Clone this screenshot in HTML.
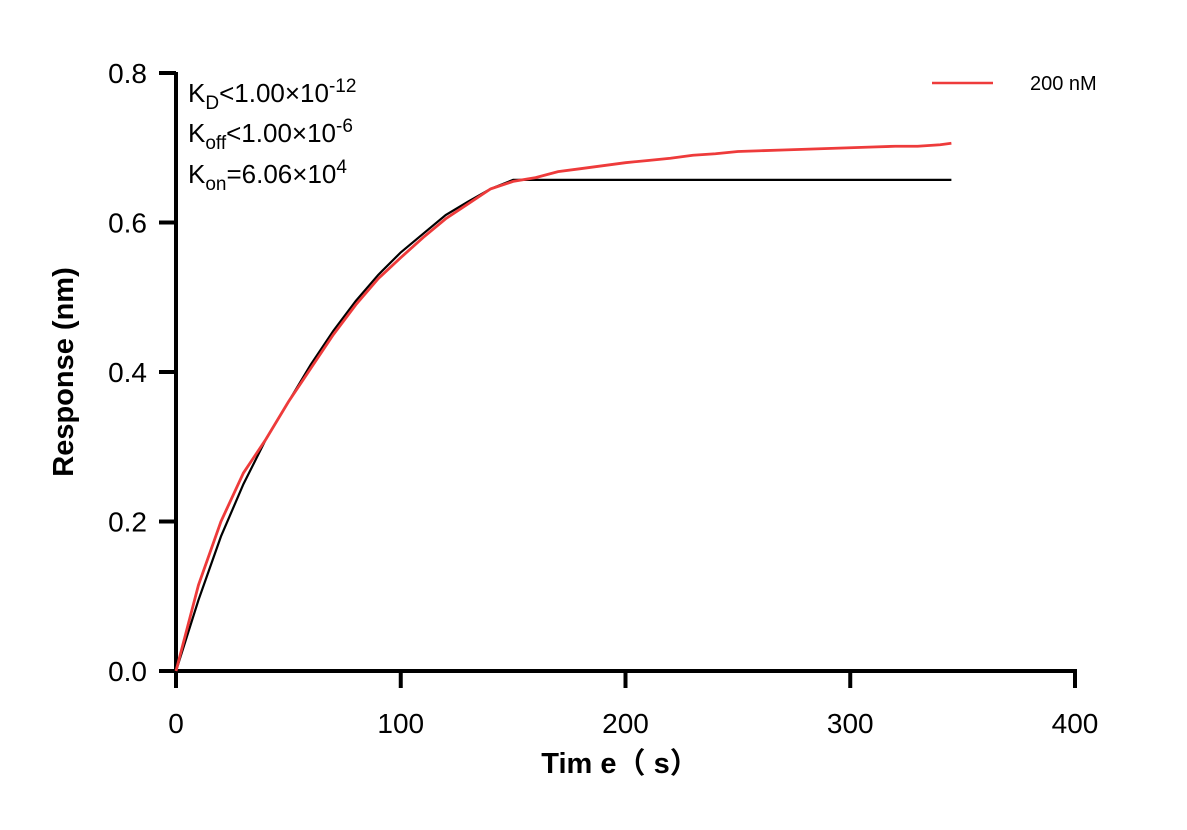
<!DOCTYPE html>
<html><head><meta charset="utf-8"><style>
body{margin:0;background:#fff;}
svg text{font-family:"Liberation Sans","Noto Sans CJK SC",sans-serif;}
</style></head><body>
<svg width="1187" height="825" xmlns="http://www.w3.org/2000/svg">
<g id="axes"></g>
<g id="marks"></g>
<text x="188" y="102" font-size="26">K<tspan font-size="19" dy="7">D</tspan><tspan dy="-7">&lt;1.00×10</tspan><tspan font-size="19" dy="-10">-12</tspan></text>
<text x="188" y="142" font-size="26">K<tspan font-size="19" dy="7">off</tspan><tspan dy="-7">&lt;1.00×10</tspan><tspan font-size="19" dy="-10">-6</tspan></text>
<text x="188" y="183" font-size="26">K<tspan font-size="19" dy="7">on</tspan><tspan dy="-7">=6.06×10</tspan><tspan font-size="19" dy="-10">4</tspan></text>
<line x1="932" y1="83" x2="993" y2="83" stroke="#ee3b3b" stroke-width="2.5"/>
<text x="1030" y="90" font-size="20">200 nM</text>
<text x="620" y="773" font-size="29" font-weight="bold" text-anchor="middle">Tim e（ s）</text>
<text transform="translate(73,372) rotate(-90)" font-size="29" font-weight="bold" text-anchor="middle">Response (nm)</text>
</svg>
<script>
const xTicks=[0,100,200,300,400];
const yTicks=[0.0,0.2,0.4,0.6,0.8];
const yTickLabels=["0.0","0.2","0.4","0.6","0.8"];
const times=[0,10,20,30,40,50,60,70,80,90,100,110,120,130,140,150,160,170,180,190,200,210,220,230,240,250,260,270,280,290,300,310,320,330,340,345];
const measured=[0,0.115,0.2,0.265,0.31,0.36,0.405,0.45,0.49,0.525,0.553,0.58,0.605,0.625,0.645,0.655,0.66,0.668,0.672,0.676,0.68,0.683,0.686,0.69,0.692,0.695,0.696,0.697,0.698,0.699,0.7,0.701,0.702,0.702,0.704,0.706];
const fitTimes=[0,10,20,30,40,50,60,70,80,90,100,110,120,130,140,150,345];
const fitValues=[0,0.095,0.18,0.25,0.31,0.36,0.41,0.455,0.495,0.53,0.56,0.585,0.61,0.628,0.645,0.657,0.657];
const NS="http://www.w3.org/2000/svg";
const X=t=>176+t*(1075-176)/400;
const Y=v=>671-v*(671-73)/0.8;
const axes=document.getElementById('axes'),marks=document.getElementById('marks');
function mk(tag,attrs,parent){const e=document.createElementNS(NS,tag);for(const k in attrs)e.setAttribute(k,attrs[k]);parent.appendChild(e);return e;}
let e=mk('line',{x1:176,y1:Y(0.8)-1,x2:176,y2:673,stroke:'#000','stroke-width':4},axes);


e=mk('line',{x1:174,y1:671,x2:X(400)+2,y2:671,stroke:'#000','stroke-width':4},axes);


xTicks.forEach(t=>{
 let l=mk('line',{x1:X(t),y1:671,x2:X(t),y2:688,stroke:'#000','stroke-width':4},axes);
 
 
 let s=mk('text',{x:X(t),y:733,'font-size':28,'text-anchor':'middle'},axes);s.textContent=t;
 
 
});
yTicks.forEach((v,i)=>{
 let l=mk('line',{x1:159,y1:Y(v),x2:176,y2:Y(v),stroke:'#000','stroke-width':4},axes);
 
 
 let s=mk('text',{x:147,y:Y(v)+10,'font-size':28,'text-anchor':'end'},axes);s.textContent=yTickLabels[i];
 
 
});
let fp=mk('polyline',{points:fitTimes.map((t,i)=>X(t)+','+Y(fitValues[i])).join(' '),fill:'none',stroke:'#000','stroke-width':2.2},marks);


let mp=mk('polyline',{points:times.map((t,i)=>X(t)+','+Y(measured[i])).join(' '),fill:'none',stroke:'#ee3b3b','stroke-width':2.8},marks);


</script>
</body></html>
